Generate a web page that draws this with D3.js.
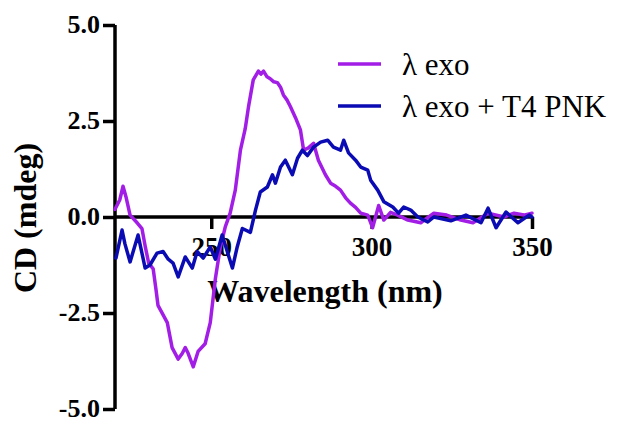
<!DOCTYPE html>
<html>
<head>
<meta charset="utf-8">
<script src="https://cdn.jsdelivr.net/npm/d3@7"></script>
<style>
  html, body { margin: 0; padding: 0; background: #ffffff; }
  svg { display: block; }
</style>
</head>
<body>
<svg id="chart" width="618" height="422"></svg>
<script>
// ---- Data ----
const exoWavelength = [220, 221.5, 222.5, 223.5, 224.7, 226.9, 228.4, 229.5, 230.5, 231.9, 232.8, 233.4, 235, 236.3, 237.8, 239.7, 241, 241.9, 242.8, 244.4, 245.9, 248.1, 249.7, 251.3, 252.8, 254.4, 255.9, 257.5, 259.1, 260.6, 261.6, 263.1, 264.7, 265.5, 266.3, 267.4, 268.4, 269.5, 270.6, 271.6, 272.5, 273.6, 274.7, 276.3, 277.8, 278.8, 280.3, 281.9, 283.4, 285.6, 287.2, 288.8, 290.3, 291.9, 293.4, 295, 296.6, 298.8, 300.3, 302.2, 303.8, 305.9, 308.1, 311.3, 315.3, 319.4, 323.4, 327.8, 331.6, 336.3, 341.3, 344.4, 347.5, 350];
const exoCD = [0.2, 0.45, 0.8, 0.5, 0.05, -0.15, -0.3, -0.8, -1.2, -1.35, -1.9, -2.3, -2.55, -2.75, -3.4, -3.7, -3.55, -3.4, -3.55, -3.9, -3.5, -3.3, -2.75, -1.6, -0.8, -0.25, 0.1, 0.7, 1.74, 2.3, 2.86, 3.57, 3.8, 3.72, 3.8, 3.65, 3.6, 3.52, 3.5, 3.38, 3.18, 3.05, 2.87, 2.58, 2.27, 1.74, 1.8, 1.92, 1.48, 1.1, 0.88, 0.8, 0.7, 0.5, 0.36, 0.25, 0.1, 0.05, -0.28, 0.3, -0.08, 0.12, 0.05, -0.08, -0.15, 0.1, 0.05, -0.08, -0.15, 0.1, 0.0, 0.1, 0.05, 0.1];

const pnkWavelength = [220.3, 222.2, 223.1, 224.7, 227.2, 229.4, 230.9, 233.1, 235, 236.6, 238.1, 239.7, 241.9, 244.1, 245.6, 247.5, 249.7, 251.3, 253.4, 255, 256.6, 258.1, 259.7, 262.2, 263.8, 265.3, 267.5, 269.1, 270, 271.6, 273.1, 275.3, 276.9, 278.4, 280, 281.9, 284.1, 286.3, 288.1, 290.3, 291.3, 292.8, 295, 296.6, 298.8, 299.7, 301.9, 303.8, 306.6, 308.4, 310, 312.2, 314.4, 317.5, 319.4, 324.7, 329.4, 334.1, 336.3, 338.8, 341.9, 345.6, 349.1, 350];
const pnkCD = [-1.07, -0.34, -0.7, -1.17, -0.47, -1.33, -1.25, -0.94, -0.9, -1.1, -1.2, -1.56, -1.04, -1.33, -0.9, -1.07, -0.78, -1.1, -0.47, -0.9, -1.33, -0.78, -0.3, -0.4, 0.18, 0.65, 0.78, 1.1, 0.88, 1.3, 1.48, 1.1, 1.53, 1.74, 1.6, 1.82, 1.95, 2.0, 1.82, 1.74, 2.0, 1.67, 1.48, 1.3, 1.22, 0.96, 0.7, 0.4, 0.26, 0.1, 0.26, 0.18, 0.0, -0.13, 0.0, -0.1, 0.05, -0.15, 0.23, -0.28, 0.13, -0.15, 0.05, 0.0];

const seriesNames = ["\u03bb exo", "\u03bb exo + T4 PNK"];
const seriesColors = ["#a21de6", "#0b0bb4"];
const xTicks = [250, 300, 350];
const yTicks = [5, 2.5, 0, -2.5, -5];
const yTickLabels = ["5.0", "2.5", "0.0", "-2.5", "-5.0"];

// ---- Layout ----
const svg = d3.select("#chart");
const x = d3.scaleLinear().domain([220, 350]).range([115, 532]);
const y = d3.scaleLinear().domain([-5, 5]).range([409, 25]);
const serif = "'Times New Roman', 'Liberation Serif', Times, serif";

// Y axis
const yAxis = svg.append("g")
  .attr("transform", `translate(${x(220)},0)`)
  .call(d3.axisLeft(y).tickValues(yTicks).tickSize(12).tickPadding(3)
    .tickFormat((d, i) => yTickLabels[i]));
yAxis.select(".domain").attr("stroke", "#000").attr("stroke-width", 3.5).attr("d", `M0,${y(5)}V${y(-5)}`);
yAxis.selectAll(".tick line").attr("stroke", "#000").attr("stroke-width", 3.5);
yAxis.selectAll(".tick text")
  .attr("font-family", serif).attr("font-weight", "bold").attr("font-size", 26)
  .attr("dy", "0.27em")
  .attr("fill", "#000");

// X axis through zero
const xAxis = svg.append("g")
  .attr("transform", `translate(0,${y(0)})`)
  .call(d3.axisBottom(x).tickValues(xTicks).tickSize(12).tickPadding(8).tickFormat(d3.format("d")));
xAxis.select(".domain").attr("stroke", "#000").attr("stroke-width", 3.5).attr("d", `M${x(220)},0H${x(350)}`);
xAxis.selectAll(".tick line").attr("stroke", "#000").attr("stroke-width", 3.5);
xAxis.selectAll(".tick text")
  .attr("font-family", serif).attr("font-weight", "bold").attr("font-size", 27)
  .attr("fill", "#000");

// Axis titles
svg.append("text")
  .attr("x", 325).attr("y", 302)
  .attr("text-anchor", "middle")
  .attr("font-family", serif).attr("font-weight", "bold").attr("font-size", 32)
  .text("Wavelength (nm)");
svg.append("text")
  .attr("transform", `translate(36,218) rotate(-90)`)
  .attr("text-anchor", "middle")
  .attr("font-family", serif).attr("font-weight", "bold").attr("font-size", 32)
  .text("CD (mdeg)");

// Curves
const line = d3.line().x(d => x(d[0])).y(d => y(d[1])).curve(d3.curveLinear);
const exoData = exoWavelength.map((w, i) => [w, exoCD[i]]);
const pnkData = pnkWavelength.map((w, i) => [w, pnkCD[i]]);

svg.append("path").datum(exoData)
  .attr("d", line).attr("fill", "none")
  .attr("stroke", seriesColors[0]).attr("stroke-width", 3.5)
  .attr("stroke-linejoin", "round").attr("stroke-linecap", "round");
svg.append("path").datum(pnkData)
  .attr("d", line).attr("fill", "none")
  .attr("stroke", seriesColors[1]).attr("stroke-width", 3.5)
  .attr("stroke-linejoin", "round").attr("stroke-linecap", "round");

// Legend
const legendY = [64, 106];
seriesNames.forEach((name, i) => {
  svg.append("line")
    .attr("x1", 338).attr("x2", 381)
    .attr("y1", legendY[i]).attr("y2", legendY[i])
    .attr("stroke", seriesColors[i]).attr("stroke-width", 3.5);
  svg.append("text")
    .attr("x", 402).attr("y", legendY[i] + 11)
    .attr("font-family", serif).attr("font-size", 31)
    .attr("fill", "#000")
    .text(name);
});
</script>
</body>
</html>
